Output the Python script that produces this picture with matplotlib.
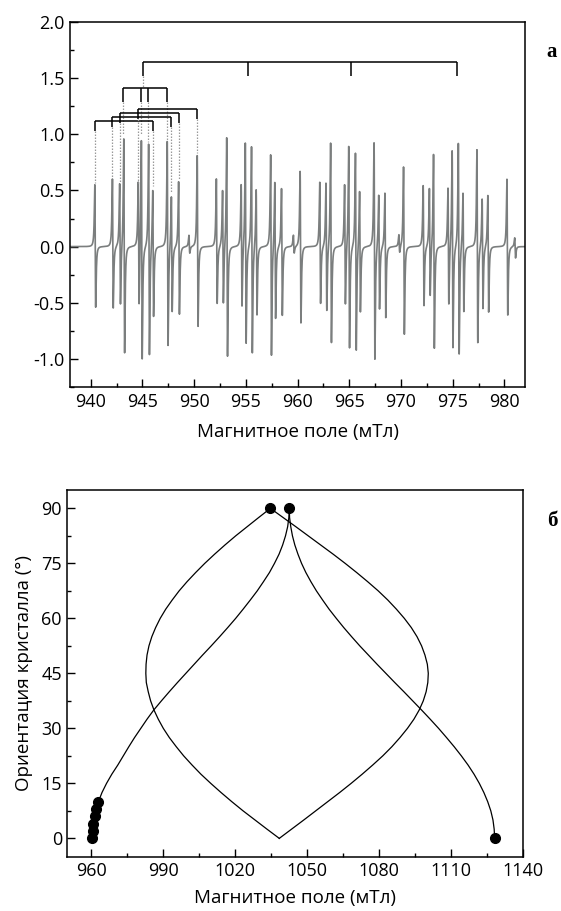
import numpy as np
import matplotlib
matplotlib.use("Agg")
import matplotlib.pyplot as plt
from matplotlib.ticker import MultipleLocator, FormatStrFormatter

# ---- spectrum (a): line positions (mT), derivative peak heights and trough depths
line_field = [
    940.4, 942.1, 942.8, 943.2, 944.6, 944.9, 945.6, 946.0, 947.4, 947.8, 948.5, 949.5, 950.3,
    952.15, 952.75, 953.15, 954.55, 954.95, 955.55, 956.0, 957.4, 957.8, 958.45, 959.6, 960.25,
    962.15, 962.75, 963.2, 964.55, 964.95, 965.6, 966.0, 967.4, 967.85, 968.45, 969.8, 970.25,
    972.15, 972.75, 973.15, 974.55, 974.95, 975.55, 976.0, 977.35, 977.85, 978.4, 980.25, 981.0,
]
line_peak = [
    0.55, 0.60, 0.55, 0.97, 0.55, 0.97, 0.91, 0.52, 0.93, 0.46, 0.58, 0.10, 0.81,
    0.60, 0.49, 0.98, 0.54, 0.93, 0.89, 0.52, 0.81, 0.59, 0.52, 0.10, 0.67,
    0.57, 0.56, 0.93, 0.54, 0.90, 0.83, 0.51, 0.92, 0.47, 0.48, 0.10, 0.71,
    0.54, 0.51, 0.83, 0.51, 0.86, 0.92, 0.49, 0.86, 0.43, 0.46, 0.60, 0.08,
]
line_trough = [
    0.54, 0.55, 0.53, 0.94, 0.56, 0.99, 0.97, 0.61, 0.89, 0.57, 0.60, 0.06, 0.71,
    0.51, 0.52, 0.97, 0.55, 0.86, 0.95, 0.60, 0.98, 0.63, 0.61, 0.06, 0.68,
    0.51, 0.58, 0.85, 0.53, 0.90, 0.93, 0.57, 1.01, 0.55, 0.63, 0.06, 0.78,
    0.53, 0.45, 0.90, 0.53, 0.90, 0.96, 0.57, 0.86, 0.55, 0.58, 0.61, 0.10,
]

# hyperfine stick diagram
level1_ticks = [945.05, 955.25, 965.2, 975.4]
level2_ticks = [943.15, 944.85, 945.55, 947.4]
level3_pairs = [(940.4, 946.0), (942.1, 947.8), (942.8, 948.5), (944.6, 950.3)]
level3_heights = [1.12, 1.155, 1.19, 1.225]

# ---- angular dependence (б): crystal orientation (deg) vs resonance field (mT)
angle_a = [0, 2, 4, 6, 8, 10, 12.5, 15, 17.5, 20, 22.5, 25, 27.5, 30, 32.5, 35, 37.5, 40,
           42.5, 45, 47.5, 50, 52.5, 55, 57.5, 60, 62.5, 65, 67.5, 70, 72.5, 75, 77.5, 80,
           82.5, 85, 87.5, 90]
field_a = [960.4, 960.6, 960.8, 961.3, 962.0, 962.9, 964.4, 966.3, 968.5, 971.0, 973.3,
           975.6, 978.0, 980.6, 983.2, 986.0, 989.2, 992.5, 995.9, 999.4, 1002.9, 1006.4,
           1010.0, 1013.5, 1016.9, 1020.2, 1023.3, 1026.3, 1029.2, 1031.8, 1034.3, 1036.4,
           1038.3, 1039.8, 1041.0, 1041.9, 1042.4, 1042.6]
angle_grid = [0, 2.5, 5, 7.5, 10, 12.5, 15, 17.5, 20, 22.5, 25, 27.5, 30, 32.5, 35, 37.5,
              40, 42.5, 45, 47.5, 50, 52.5, 55, 57.5, 60, 62.5, 65, 67.5, 70, 72.5, 75,
              77.5, 80, 82.5, 85, 87.5, 90]
field_b = [1128.3, 1128.1, 1127.6, 1126.7, 1125.4, 1123.8, 1121.9, 1119.7, 1117.2, 1114.4,
           1111.4, 1108.2, 1104.9, 1101.4, 1097.8, 1094.1, 1090.4, 1086.6, 1082.9, 1079.2,
           1075.6, 1072.0, 1068.6, 1065.3, 1062.2, 1059.2, 1056.5, 1053.9, 1051.6, 1049.5,
           1047.7, 1046.2, 1044.9, 1043.9, 1043.2, 1042.7, 1042.6]
field_c = [1038.4, 1033.3, 1028.3, 1023.3, 1018.6, 1014.1, 1009.8, 1005.7, 1002.0, 998.5,
           995.4, 992.5, 990.0, 987.9, 986.1, 984.7, 983.7, 982.9, 982.7, 982.8, 983.2,
           984.0, 985.2, 986.8, 988.7, 991.0, 993.7, 996.6, 999.9, 1003.5, 1007.3, 1011.4,
           1015.7, 1020.2, 1025.0, 1029.8, 1034.7]
field_d = [1038.4, 1043.5, 1048.6, 1053.6, 1058.6, 1063.6, 1068.4, 1073.0, 1077.4, 1081.6,
           1085.4, 1088.8, 1091.9, 1094.6, 1096.8, 1098.5, 1099.7, 1100.4, 1100.6, 1100.2,
           1099.2, 1097.8, 1095.9, 1093.5, 1090.6, 1087.3, 1083.7, 1079.7, 1075.3, 1070.7,
           1065.9, 1060.9, 1055.7, 1050.5, 1045.3, 1040.0, 1034.7]

plt.rcParams["font.family"] = ["Open Sans", "DejaVu Sans"]
plt.rcParams["axes.unicode_minus"] = False
plt.rcParams["font.size"] = 13


def style_axes(ax):
    for s in ax.spines.values():
        s.set_linewidth(1.1)
    ax.tick_params(which="both", direction="in", top=False, right=False, width=1.0,
                   labelsize=13, pad=4)
    ax.tick_params(which="major", length=6)
    ax.tick_params(which="minor", length=3)


fig = plt.figure(figsize=(5.61, 9.11), dpi=100)
ax1 = fig.add_axes([0.1248, 0.5752, 0.8111, 0.4007])
ax2 = fig.add_axes([0.1203, 0.0596, 0.8114, 0.4025])

# build the derivative spectrum from the individual lines
field = np.arange(938.0, 982.0, 0.005)
width = 0.07
signal = np.zeros_like(field)
for pos, up, down in zip(line_field, line_peak, line_trough):
    u = (field - (pos + width / np.sqrt(3))) / width
    shape = -u / (1 + u ** 2) ** 2 / 0.3248
    signal += np.where(u < 0, up * shape, down * shape)

ax1.plot(field, signal, color="#7b7e7e", lw=1.2)


def peak_of(pos):
    i = int(np.argmin(np.abs(np.array(line_field) - pos)))
    return line_peak[i]


bk = dict(color="black", lw=1.1, solid_capstyle="butt")
dot = dict(color="#9a9a9a", lw=0.9, ls=(0, (1.2, 1.2)))

# level 1
ax1.plot([level1_ticks[0], level1_ticks[-1]], [1.64, 1.64], **bk)
for x in level1_ticks:
    ax1.plot([x, x], [1.64, 1.52], **bk)
ax1.plot([level1_ticks[0], level1_ticks[0]], [1.52, 1.41], **dot)

# level 2
ax1.plot([level2_ticks[0], level2_ticks[-1]], [1.41, 1.41], **bk)
for x in level2_ticks:
    ax1.plot([x, x], [1.41, 1.29], **bk)
    ax1.plot([x, x], [1.29, peak_of(x) + 0.02], **dot)

# level 3
for (x0, x1), h in zip(level3_pairs, level3_heights):
    ax1.plot([x0, x1], [h, h], **bk)
    for x in (x0, x1):
        ax1.plot([x, x], [h, h - 0.09], **bk)
        ax1.plot([x, x], [h - 0.09, peak_of(x) + 0.02], **dot)

ax1.set_xlim(938, 982)
ax1.set_ylim(-1.25, 2.0)
ax1.xaxis.set_major_locator(MultipleLocator(5))
ax1.xaxis.set_minor_locator(MultipleLocator(2.5))
ax1.yaxis.set_major_locator(MultipleLocator(0.5))
ax1.yaxis.set_minor_locator(MultipleLocator(0.25))
ax1.yaxis.set_major_formatter(FormatStrFormatter("%.1f"))
style_axes(ax1)
ax1.set_xlabel("Магнитное поле (мТл)", fontsize=13.5, labelpad=9)

# angular dependence
lk = dict(color="black", lw=0.9)
ax2.plot(field_a, angle_a, **lk)
ax2.plot(field_b, angle_grid, **lk)
ax2.plot(field_c, angle_grid, **lk)
ax2.plot(field_d, angle_grid, **lk)
mk = dict(ls="none", marker="o", ms=7, color="black")
ax2.plot(field_a[:6], angle_a[:6], **mk)
ax2.plot([field_b[0]], [angle_grid[0]], **mk)
ax2.plot([field_c[-1], field_a[-1]], [angle_grid[-1], angle_a[-1]], **mk)

ax2.set_xlim(950, 1140)
ax2.set_ylim(-5, 95)
ax2.xaxis.set_major_locator(MultipleLocator(30))
ax2.xaxis.set_minor_locator(MultipleLocator(15))
ax2.yaxis.set_major_locator(MultipleLocator(15))
ax2.yaxis.set_minor_locator(MultipleLocator(7.5))
style_axes(ax2)
ax2.set_xlabel("Магнитное поле (мТл)", fontsize=13.5, labelpad=6)
ax2.set_ylabel("Ориентация кристалла (°)", fontsize=13.5, labelpad=6)

fig.text(0.984, 0.943, "a", fontsize=15, fontweight="bold",
         family=["Liberation Serif", "DejaVu Serif"], ha="center", va="center")
fig.text(0.984, 0.428, "б", fontsize=15, fontweight="bold",
         family=["Liberation Serif", "DejaVu Serif"], ha="center", va="center")

fig.savefig("out.png", dpi=100)
